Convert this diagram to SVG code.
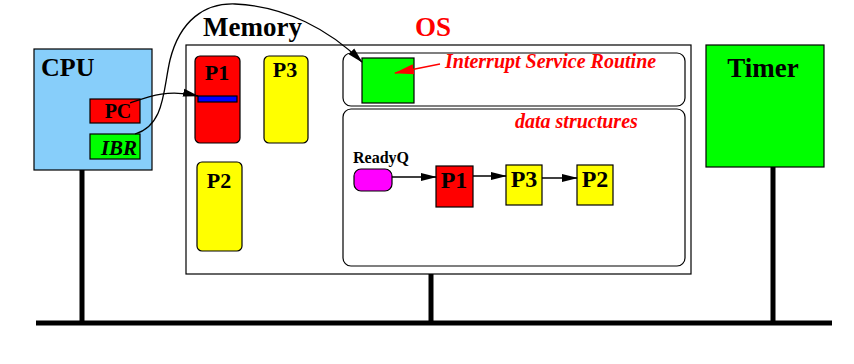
<svg xmlns="http://www.w3.org/2000/svg" width="854" height="364" viewBox="0 0 854 364">
<style>
.t{font-family:"Liberation Serif","Times New Roman",serif;font-weight:bold;fill:#000}
.it{font-style:italic}
.red{fill:#ff0000}
.box{stroke:#000;stroke-width:1.2}
.bus{stroke:#000;stroke-width:5;fill:none}
.con{stroke:#000;stroke-width:1.3;fill:none}
</style>
<defs>
<marker id="ah" markerWidth="16" markerHeight="10" refX="15" refY="5" orient="auto" markerUnits="userSpaceOnUse">
<path d="M0,1 L16,5 L0,9 z" fill="#000"/>
</marker>
<marker id="ahr" markerWidth="20" markerHeight="12" refX="19" refY="6" orient="auto" markerUnits="userSpaceOnUse">
<path d="M0,1 L20,6 L0,11 z" fill="#ff0000"/>
</marker>
</defs>
<rect width="854" height="364" fill="#fff"/>
<g id="bus">
<line class="bus" x1="36" y1="323" x2="832" y2="323"/>
<line class="bus" x1="82" y1="170" x2="82" y2="323"/>
<line class="bus" x1="431" y1="274" x2="431" y2="323"/>
<line class="bus" x1="773" y1="167" x2="773" y2="323"/>
</g>
<g id="cpu">
<rect class="box" x="34" y="49" width="118" height="121" fill="#87cefa"/>
<text class="t" x="41" y="76" font-size="26">CPU</text>
</g>
<g id="pc">
<rect class="box" x="90" y="99" width="50" height="24" fill="#ff0000"/>
<text class="t" x="118" y="118" font-size="20" text-anchor="middle">PC</text>
</g>
<g id="ibr">
<rect class="box" x="90" y="134" width="50" height="25" fill="#00ff00"/>
<text class="t it" x="119" y="155" font-size="21" text-anchor="middle">IBR</text>
</g>
<g id="memory">
<rect class="box" x="186" y="45" width="505" height="229" fill="#fff"/>
<text class="t" x="203" y="36" font-size="27">Memory</text>
<text class="t red" x="415" y="36" font-size="27">OS</text>
</g>
<g id="mem-p1">
<rect class="box" x="195" y="56" width="45" height="87" rx="5" fill="#ff0000"/>
<text class="t" x="217" y="80" font-size="22" text-anchor="middle">P1</text>
<rect class="box" x="198" y="96" width="39" height="6" fill="#0000ff"/>
</g>
<g id="mem-p3">
<rect class="box" x="264" y="56" width="44" height="87" rx="5" fill="#ffff00"/>
<text class="t" x="285" y="77" font-size="22" text-anchor="middle">P3</text>
</g>
<g id="mem-p2">
<rect class="box" x="197" y="162" width="45" height="89" rx="5" fill="#ffff00"/>
<text class="t" x="219" y="188" font-size="22" text-anchor="middle">P2</text>
</g>
<g id="isr-region">
<rect class="box" x="343" y="53" width="342" height="53" rx="8" fill="#fff"/>
<text class="t it red" x="445" y="68" font-size="20">Interrupt Service Routine</text>
</g>
<g id="isr">
<rect class="box" x="362" y="58" width="52" height="45" fill="#00ff00"/>
</g>
<g id="data-structures">
<rect class="box" x="343" y="109" width="342" height="157" rx="8" fill="#fff"/>
<text class="t it red" x="515" y="128" font-size="20">data structures</text>
</g>
<g id="readyq">
<text class="t" x="353" y="163" font-size="16">ReadyQ</text>
<rect class="box" x="354" y="169" width="38" height="22" rx="7" fill="#ff00ff"/>
</g>
<g id="q-p1">
<rect class="box" x="436" y="166" width="37" height="41" fill="#ff0000"/>
<text class="t" x="454" y="188" font-size="24" text-anchor="middle">P1</text>
</g>
<g id="q-p3">
<rect class="box" x="506" y="165" width="36" height="40" fill="#ffff00"/>
<text class="t" x="524" y="187" font-size="24" text-anchor="middle">P3</text>
</g>
<g id="q-p2">
<rect class="box" x="577" y="165" width="36" height="40" fill="#ffff00"/>
<text class="t" x="595" y="187" font-size="24" text-anchor="middle">P2</text>
</g>
<g id="timer">
<rect class="box" x="706" y="45" width="118" height="122" fill="#00ff00"/>
<text class="t" x="763" y="77" font-size="27" text-anchor="middle">Timer</text>
</g>
<g id="connectors">
<path class="con" d="M130,103 C150,96 168,89 198,96" marker-end="url(#ah)"/>
<path class="con" d="M135,134 C165,125 163,90 170,60 C180,20 205,3 235,4 C285,6 330,30 362,62" marker-end="url(#ah)"/>
<line x1="440" y1="64" x2="395" y2="73" stroke="#ff0000" stroke-width="1.3" marker-end="url(#ahr)"/>
<line class="con" x1="392" y1="177" x2="436" y2="177" marker-end="url(#ah)"/>
<line class="con" x1="473" y1="176" x2="506" y2="176" marker-end="url(#ah)"/>
<line class="con" x1="542" y1="178" x2="577" y2="178" marker-end="url(#ah)"/>
</g>
</svg>
